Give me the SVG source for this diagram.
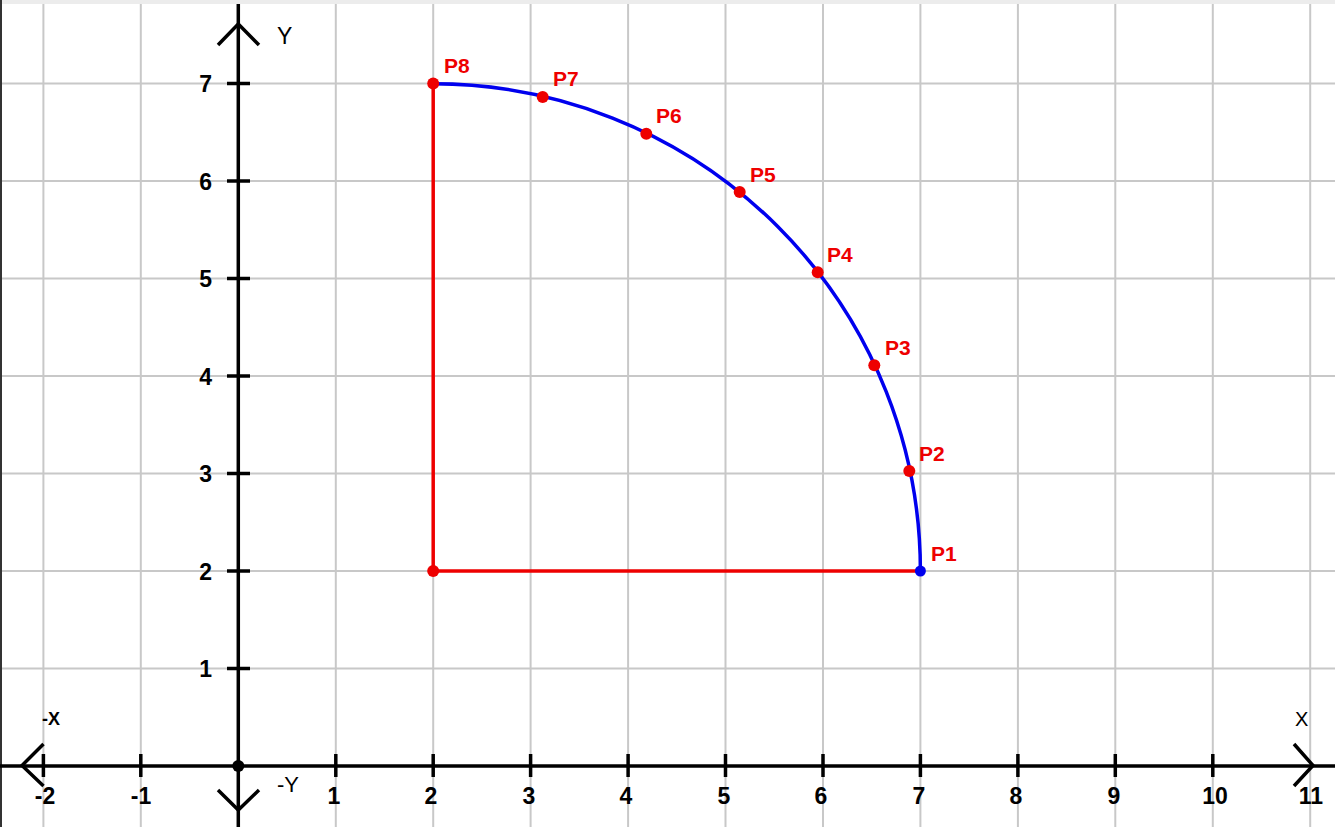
<svg xmlns="http://www.w3.org/2000/svg" width="1335" height="827" viewBox="0 0 1335 827">
<style>
.grid line{stroke:#c8c8c8;stroke-width:2}
.ax{stroke:#000;stroke-width:3.5;fill:none}
.tk{font-family:"Liberation Sans",Arial,sans-serif;font-weight:bold;font-size:23px;fill:#000}
.al{font-family:"Liberation Sans",Arial,sans-serif;fill:#000}
.pl{font-family:"Liberation Sans",Arial,sans-serif;font-weight:bold;font-size:21px;fill:#ee0000}
.rd{fill:#ee0000}
.red{stroke:#ee0000;stroke-width:3.5;fill:none}
.blue{stroke:#0000ee;stroke-width:3.5;fill:none}
</style>
<rect x="0" y="0" width="1335" height="827" fill="#fff"/>
<rect x="0" y="0" width="1335" height="4" fill="#ececec"/>
<rect x="0" y="0" width="2" height="827" fill="#333"/>
<g id="grid" class="grid">
<line x1="43.4" y1="4" x2="43.4" y2="827"/>
<line x1="140.8" y1="4" x2="140.8" y2="827"/>
<line x1="335.8" y1="4" x2="335.8" y2="827"/>
<line x1="433.2" y1="4" x2="433.2" y2="827"/>
<line x1="530.6" y1="4" x2="530.6" y2="827"/>
<line x1="628.1" y1="4" x2="628.1" y2="827"/>
<line x1="725.5" y1="4" x2="725.5" y2="827"/>
<line x1="823" y1="4" x2="823" y2="827"/>
<line x1="920.4" y1="4" x2="920.4" y2="827"/>
<line x1="1017.9" y1="4" x2="1017.9" y2="827"/>
<line x1="1115.3" y1="4" x2="1115.3" y2="827"/>
<line x1="1212.8" y1="4" x2="1212.8" y2="827"/>
<line x1="1310.2" y1="4" x2="1310.2" y2="827"/>
<line x1="2" y1="83.5" x2="1335" y2="83.5"/>
<line x1="2" y1="181" x2="1335" y2="181"/>
<line x1="2" y1="278.5" x2="1335" y2="278.5"/>
<line x1="2" y1="376" x2="1335" y2="376"/>
<line x1="2" y1="473.5" x2="1335" y2="473.5"/>
<line x1="2" y1="571" x2="1335" y2="571"/>
<line x1="2" y1="668.5" x2="1335" y2="668.5"/>
</g>
<g id="axes">
<line class="ax" x1="0" y1="766" x2="1335" y2="766"/>
<line class="ax" x1="238.3" y1="4" x2="238.3" y2="827"/>
<polyline class="ax" points="218,45 238.3,24 259,45"/>
<polyline class="ax" points="218,790 238.3,810 259,790"/>
<polyline class="ax" points="43.5,744 22,765.5 43.5,786"/>
<polyline class="ax" points="1294,744 1313,765.5 1294,786"/>
<g class="ax">
<line x1="43.4" y1="754" x2="43.4" y2="777"/>
<line x1="140.8" y1="754" x2="140.8" y2="777"/>
<line x1="335.8" y1="754" x2="335.8" y2="777"/>
<line x1="433.2" y1="754" x2="433.2" y2="777"/>
<line x1="530.6" y1="754" x2="530.6" y2="777"/>
<line x1="628.1" y1="754" x2="628.1" y2="777"/>
<line x1="725.5" y1="754" x2="725.5" y2="777"/>
<line x1="823" y1="754" x2="823" y2="777"/>
<line x1="920.4" y1="754" x2="920.4" y2="777"/>
<line x1="1017.9" y1="754" x2="1017.9" y2="777"/>
<line x1="1115.3" y1="754" x2="1115.3" y2="777"/>
<line x1="1212.8" y1="754" x2="1212.8" y2="777"/>
<line x1="227" y1="83.5" x2="250" y2="83.5"/>
<line x1="227" y1="181" x2="250" y2="181"/>
<line x1="227" y1="278.5" x2="250" y2="278.5"/>
<line x1="227" y1="376" x2="250" y2="376"/>
<line x1="227" y1="473.5" x2="250" y2="473.5"/>
<line x1="227" y1="571" x2="250" y2="571"/>
<line x1="227" y1="668.5" x2="250" y2="668.5"/>
</g>
<circle cx="238.3" cy="766" r="6" fill="#000"/>
<g class="tk" text-anchor="middle">
<text x="45" y="804">-2</text>
<text x="141" y="804">-1</text>
<text x="334" y="804">1</text>
<text x="431" y="804">2</text>
<text x="529" y="804">3</text>
<text x="626" y="804">4</text>
<text x="724" y="804">5</text>
<text x="821" y="804">6</text>
<text x="919" y="804">7</text>
<text x="1016" y="804">8</text>
<text x="1114" y="804">9</text>
<text x="1215" y="804">10</text>
<text x="1311" y="804">11</text>
</g>
<g class="tk" text-anchor="end">
<text x="212" y="92">7</text>
<text x="212" y="189.5">6</text>
<text x="212" y="287">5</text>
<text x="212" y="384.5">4</text>
<text x="212" y="482">3</text>
<text x="212" y="579.5">2</text>
<text x="212" y="677">1</text>
</g>
<text class="al" x="277" y="44" style="font-size:23px">Y</text>
<text class="al" x="277" y="792" style="font-size:22px">-Y</text>
<text class="al" x="1295" y="726" style="font-size:20px">X</text>
<text class="al" x="42" y="725" style="font-size:18px;font-weight:bold">-X</text>
</g>
<g id="connectors">
<polyline class="red" points="433.2,83.5 433.2,571 920.4,571"/>
<path class="blue" d="M920.4,571 A487.2,487.2 0 0 0 433.2,83.8"/>
</g>
<g id="corner"><circle class="rd" cx="433.2" cy="571" r="6"/></g>
<g id="P1"><circle cx="920.4" cy="571" r="5.5" fill="#0000ee"/><text class="pl" x="931" y="561">P1</text></g>
<g id="P2"><circle class="rd" cx="909.3" cy="471" r="6"/><text class="pl" x="919" y="461">P2</text></g>
<g id="P3"><circle class="rd" cx="874.3" cy="365.3" r="6"/><text class="pl" x="885" y="355">P3</text></g>
<g id="P4"><circle class="rd" cx="817.7" cy="272.3" r="6"/><text class="pl" x="827" y="262">P4</text></g>
<g id="P5"><circle class="rd" cx="739.7" cy="192" r="6"/><text class="pl" x="750" y="182">P5</text></g>
<g id="P6"><circle class="rd" cx="646.3" cy="133.7" r="6"/><text class="pl" x="656" y="123">P6</text></g>
<g id="P7"><circle class="rd" cx="542.7" cy="97" r="6"/><text class="pl" x="553" y="86">P7</text></g>
<g id="P8"><circle class="rd" cx="433.2" cy="83.5" r="6"/><text class="pl" x="444" y="73">P8</text></g>
</svg>
